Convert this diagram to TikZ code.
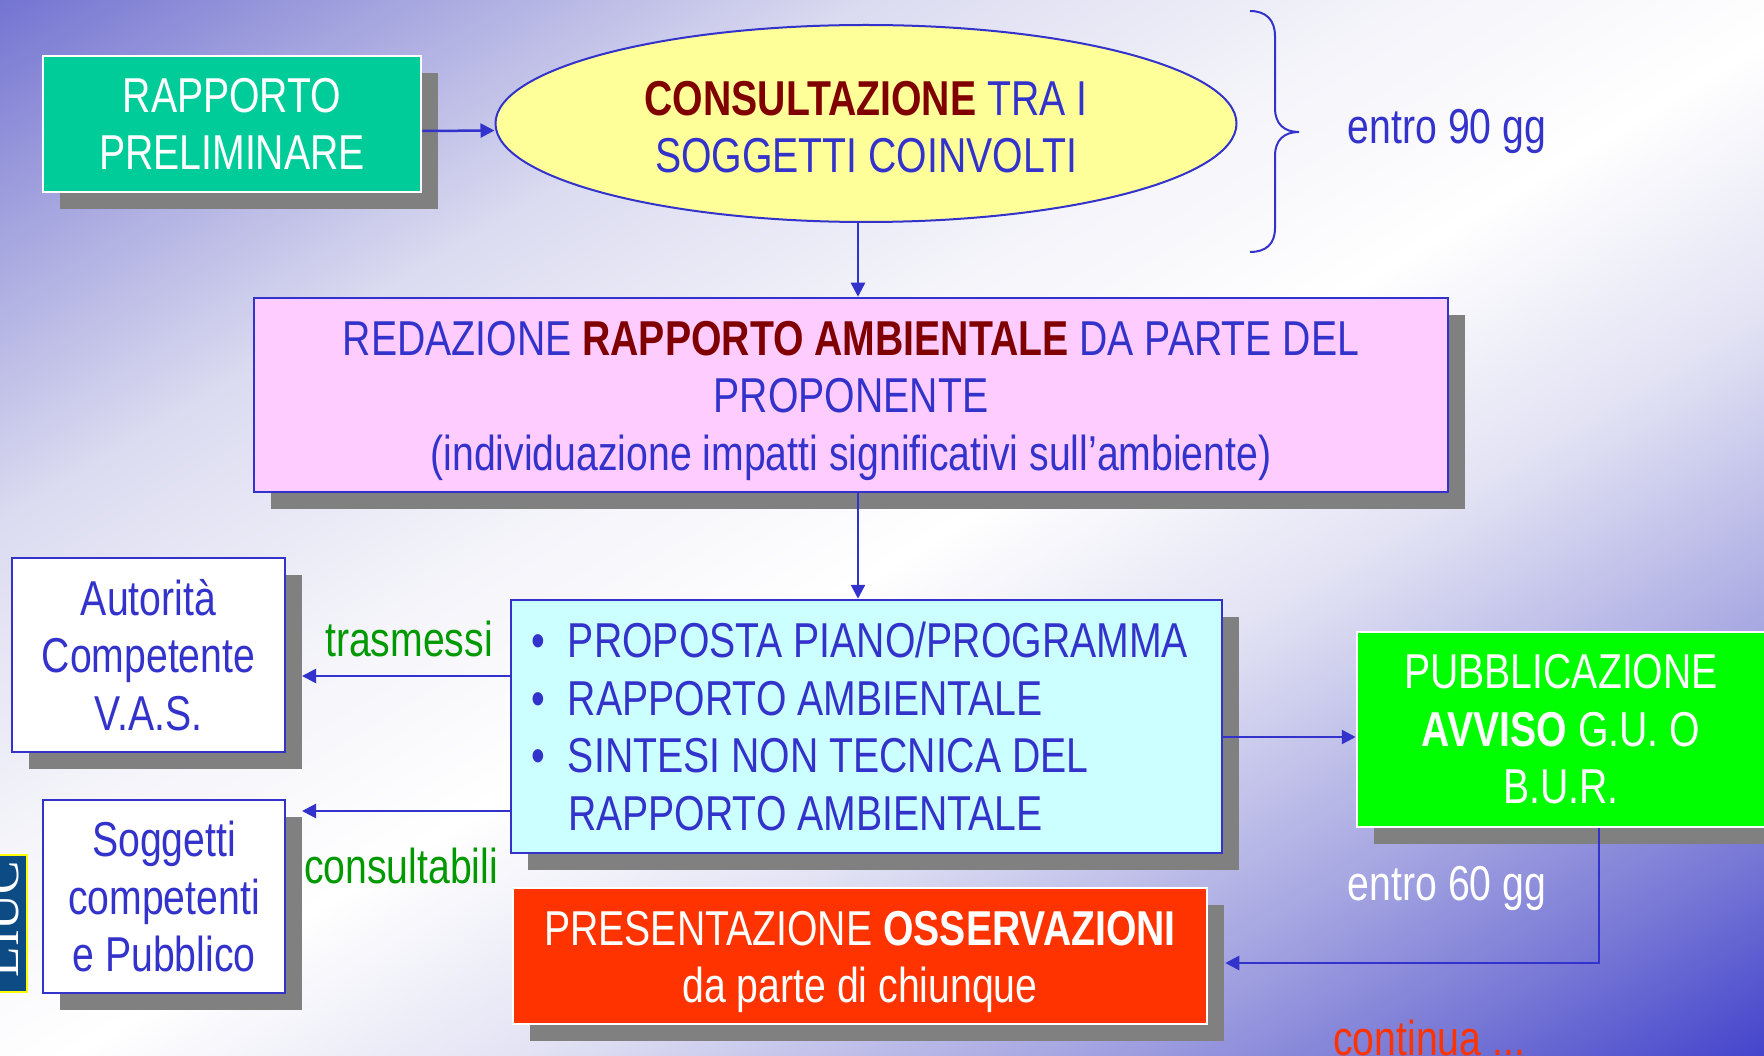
\documentclass[tikz,border=0pt]{standalone}
\usepackage{fontspec}
\setmainfont{Liberation Sans}[FakeStretch=0.80]
\newfontfamily\logofont{Liberation Serif}
\usetikzlibrary{arrows.meta,shadows,shapes.geometric,calc}
\definecolor{tblue}{HTML}{3333CC}
\definecolor{maroon}{HTML}{800000}
\definecolor{tgreen}{HTML}{009900}
\definecolor{teal}{HTML}{00CC99}
\definecolor{ellyellow}{HTML}{FFFF99}
\definecolor{pinkbox}{HTML}{FFCCFF}
\definecolor{cyanbox}{HTML}{CCFFFF}
\definecolor{brightgreen}{HTML}{00FF00}
\definecolor{redbox}{HTML}{FF3300}
\definecolor{shgray}{HTML}{808080}
\definecolor{logoblue}{HTML}{0D4B85}
\definecolor{logoyellow}{HTML}{FFFF00}
\definecolor{bgA}{HTML}{7474D2}
\definecolor{bgB}{HTML}{A4A4DF}
\definecolor{bgC}{HTML}{DCDCF1}
\definecolor{bgD}{HTML}{F4F4FA}
\definecolor{bgE}{HTML}{E2E2F4}
\definecolor{bgF}{HTML}{A6A6E2}
\definecolor{bgG}{HTML}{7878D6}
\definecolor{bgH}{HTML}{4444CC}
\pgfdeclarehorizontalshading{bgshade}{100bp}{color(0bp)=(bgA); color(25bp)=(bgA); color(30.5bp)=(bgB); color(37.5bp)=(bgC); color(45bp)=(bgD); color(51bp)=(white); color(57.5bp)=(bgE); color(65bp)=(bgF); color(70bp)=(bgG); color(75bp)=(bgH); color(100bp)=(bgH)}
\begin{document}
\begin{tikzpicture}[x=1pt,y=-1pt,
  txt/.style={font=\fontsize{49}{57.5}\selectfont, align=center, text=tblue},
  box/.style={txt, rectangle, line width=2.5pt, inner sep=0pt},
  shadowed/.style={drop shadow={shadow xshift=17pt, shadow yshift=-17pt, fill=shgray, opacity=1}},
  arr/.style={draw=tblue, line width=2.5pt, -{Triangle[length=14pt,width=14pt]}},
  brace/.style={draw=tblue, line width=2pt}
]
\useasboundingbox (0,0) rectangle (1764,1056);
\begin{scope}
\clip (0,0) rectangle (1764,1056);
% background gradient
\begin{scope}[x=1pt,y=1pt,transform canvas={cm={882,-528,882,528,(0,0)}}]
  \shade[shading=bgshade] (0,-1) rectangle (2,1);
\end{scope}

% logo at left edge
\node[draw=logoyellow, line width=2.5pt, fill=logoblue, minimum width=40pt, minimum height=137pt, inner sep=0pt] (logo) at (7,923.5) {};
\node[rotate=90, anchor=base, text=white, font=\logofont\fontsize{50}{50}\selectfont] (logotext) at (18,919) {LIUC};

% nodes
\node[box, shadowed, fill=teal, draw=white, text=white, minimum width=378pt, minimum height=136pt] (prelim) at (232,124) {RAPPORTO\\PRELIMINARE};

\node[txt, ellipse, draw=tblue, line width=2pt, fill=ellyellow, minimum width=741pt, minimum height=197pt, inner sep=0pt] (cons) at (866,123.5) {\rule{0pt}{41pt}{\bfseries\color{maroon}CONSULTAZIONE} TRA I\\SOGGETTI COINVOLTI};

\node[box, shadowed, fill=pinkbox, draw=tblue, minimum width=1194pt, minimum height=194pt] (pink) at (851,395) {\rule{0pt}{46pt}REDAZIONE {\bfseries\color{maroon}RAPPORTO AMBIENTALE} DA PARTE DEL\\PROPONENTE\\(individuazione impatti significativi sull’ambiente)};

\node[box, shadowed, fill=cyanbox, draw=tblue, minimum width=711pt, minimum height=253pt, text width=671pt, inner xsep=20pt, align=left] (cyan) at (866.5,726.5) {\spaceskip=0pt\xspaceskip=0pt\relax\makebox[37pt][l]{\textbullet}PROPOSTA PIANO/PROGRAMMA\\\makebox[37pt][l]{\textbullet}RAPPORTO AMBIENTALE\\\makebox[37pt][l]{\textbullet}SINTESI NON TECNICA DEL\\\hspace*{37pt}RAPPORTO AMBIENTALE};

\node[box, shadowed, fill=white, draw=tblue, minimum width=273pt, minimum height=194pt] (auto) at (148.5,655) {Autorità\\Competente\\V.A.S.};

\node[box, shadowed, fill=white, draw=tblue, minimum width=242pt, minimum height=193pt] (sogg) at (164,896.5) {Soggetti\\competenti\\e Pubblico};

\node[box, shadowed, fill=brightgreen, draw=white, text=white, minimum width=408pt, minimum height=195pt] (pub) at (1561,729.5) {PUBBLICAZIONE\\\textbf{AVVISO} G.U. O\\B.U.R.};

\node[box, shadowed, fill=redbox, draw=white, text=white, minimum width=694pt, minimum height=136pt] (red) at (860,956) {\rule{0pt}{46pt}PRESENTAZIONE \textbf{OSSERVAZIONI}\\da parte di chiunque};

% brace
\draw[brace] (1250,11) .. controls (1266,11) and (1275,20) .. (1275,36) -- (1275,108)
  .. controls (1275,124) and (1284,132) .. (1299,132)
  .. controls (1284,132) and (1275,140) .. (1275,156) -- (1275,228)
  .. controls (1275,244) and (1266,252) .. (1250,252);

% labels
\node[txt, anchor=base] (e90) at (1447,144) {entro 90 gg};
\node[txt, anchor=base, text=tgreen] (trasm) at (409,656) {trasmessi};
\node[txt, anchor=base, text=tgreen] (consu) at (401,883) {consultabili};
\node[txt, anchor=base, text=white] (e60) at (1447,900) {entro 60 gg};
\node[txt, anchor=base west, text=redbox, inner sep=0pt] (cont) at (1333,1055) {continua ...};

% connectors
\coordinate (ta) at (302,676);
\coordinate (tb) at (302,811);
\coordinate (tc) at (1357,737);
\coordinate (td) at (1599,963);
\draw[arr] ([yshift=-7pt]prelim.east) -- ([yshift=-7pt]cons.west);
\draw[arr] ([xshift=-8pt]cons.south) -- ([xshift=-8pt]cons.south |- pink.north);
\draw[arr] ([xshift=7pt]pink.south) -- ([xshift=7pt]pink.south |- cyan.north);
\draw[arr] (cyan.west |- ta) -- (ta);
\draw[arr] (cyan.west |- tb) -- (tb);
\draw[arr] (cyan.east |- tc) -- (pub.west |- tc);
\draw[arr] (pub.south -| td) -- (td) -- ([xshift=17pt]red.east |- td);
\end{scope}
\end{tikzpicture}
\end{document}
